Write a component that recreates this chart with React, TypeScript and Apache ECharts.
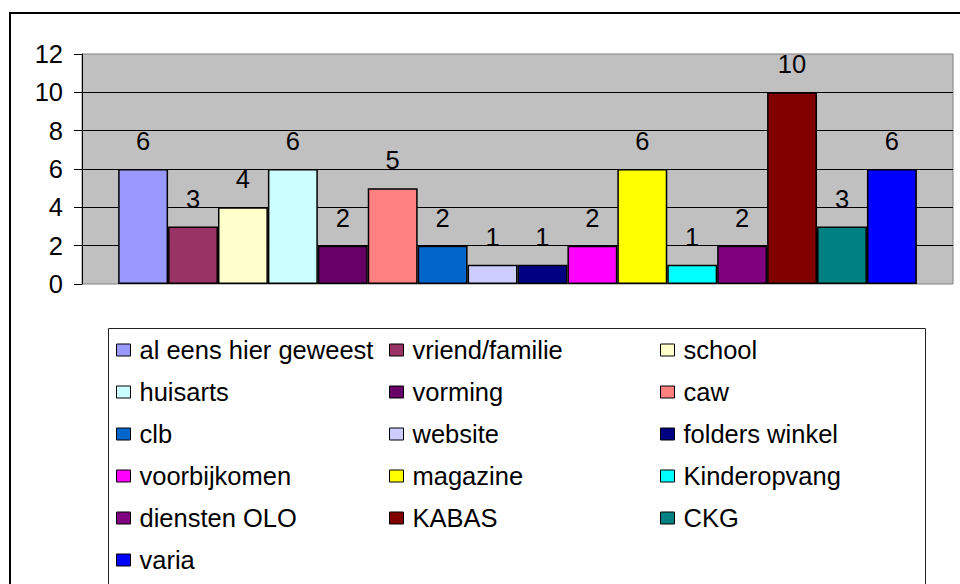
import React, { useEffect, useRef } from "react";
import * as echarts from "echarts";

const names = [
  "al eens hier geweest", "vriend/familie", "school", "huisarts", "vorming", "caw",
  "clb", "website", "folders winkel", "voorbijkomen", "magazine", "Kinderopvang",
  "diensten OLO", "KABAS", "CKG", "varia",
];
const values = [6, 3, 4, 6, 2, 5, 2, 1, 1, 2, 6, 1, 2, 10, 3, 6];
const colors = [
  "#9999FF", "#993366", "#FFFFCC", "#CCFFFF", "#660066", "#FF8080",
  "#0066CC", "#CCCCFF", "#000080", "#FF00FF", "#FFFF00", "#00FFFF",
  "#800080", "#800000", "#008080", "#0000FF",
];
const categories = [""];

const FONT = "'Liberation Sans', Arial, sans-serif";

export default function App() {
  const ref = useRef<HTMLDivElement>(null);
  useEffect(() => {
    document.body.style.margin = "0";
    const chart = echarts.init(ref.current!, undefined, { renderer: "svg" });
    const cols = [0, 1, 2].map((c) => names.filter((_, i) => i % 3 === c));
    const colLeft = [116, 389, 660];
    chart.setOption({
      animation: false,
      textStyle: { fontFamily: FONT },
      grid: {
        left: 82, right: 7, top: 54, bottom: 300,
        show: true, backgroundColor: "#C0C0C0", borderColor: "#808080", borderWidth: 1,
      },
      xAxis: {
        type: "category", data: categories,
        axisLine: { show: false }, axisTick: { show: false }, axisLabel: { show: false },
      },
      yAxis: {
        type: "value", min: 0, max: 12, interval: 2,
        axisLine: { show: true, lineStyle: { color: "#000", width: 1 } },
        axisTick: { show: true, length: 8, lineStyle: { color: "#000" } },
        axisLabel: { fontSize: 25.5, color: "#000", margin: 19, fontFamily: FONT },
        splitLine: { show: true, showMinLine: false, showMaxLine: false, lineStyle: { color: "#000", width: 1 } },
      },
      legend: cols.map((data, c) => ({
        orient: "vertical",
        left: colLeft[c],
        top: 337,
        padding: 0,
        itemWidth: 14,
        itemHeight: 12,
        itemGap: 16,
        icon: "rect",
        selectedMode: false,
        itemStyle: { borderColor: "#000", borderWidth: 1 },
        textStyle: { fontSize: 25.5, lineHeight: 25, color: "#000", fontFamily: FONT, padding: [0, 0, 0, 4] },
        data,
      })),
      graphic: [
        { type: "rect", silent: true, z: -10, shape: { x: 10, y: 13, width: 1000, height: 1000 }, style: { fill: "#fff", stroke: "#000", lineWidth: 2 } },
        { type: "rect", silent: true, z: -5, shape: { x: 108.5, y: 328.5, width: 817, height: 400 }, style: { fill: "#fff", stroke: "#222", lineWidth: 1 } },
      ],
      series: names.map((n, i) => ({
        type: "bar",
        name: n,
        data: [values[i]],
        barGap: "0%",
        barCategoryGap: "8.3%",
        itemStyle: { color: colors[i], borderColor: "#000", borderWidth: 1.5 },
        label: { show: true, position: "top", distance: 15, fontSize: 25.5, color: "#000", fontFamily: FONT },
      })),
    });
    return () => chart.dispose();
  }, []);
  return <div ref={ref} style={{ width: 960, height: 584 }} />;
}
